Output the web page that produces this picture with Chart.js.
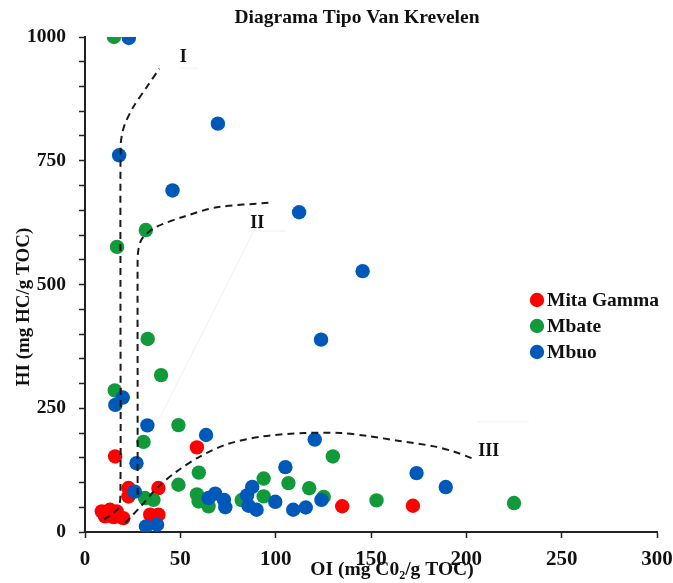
<!DOCTYPE html>
<html>
<head>
<meta charset="utf-8">
<script src="https://cdn.jsdelivr.net/npm/chart.js@4.4.0/dist/chart.umd.min.js"></script>
<style>
html,body{margin:0;padding:0;background:#fff;}
#wrap{width:673px;height:583px;position:relative;}
</style>
</head>
<body>
<div id="wrap"><canvas id="c" width="673" height="583"></canvas></div>
<script>
// ---------- DATA ----------
const chartTitle = 'Diagrama Tipo Van Krevelen';
const yTitle = 'HI (mg HC/g TOC)';
const xTitleParts = ['OI (mg C0', '2', '/g TOC)']; // middle part is subscript
const seriesNames = ['Mita Gamma', 'Mbate', 'Mbuo'];
const seriesColors = ['#ff0000', '#12993a', '#0059b9'];

const mitaOI = [8.8, 10.5, 12, 13.1, 15, 16.6, 17.5, 20.1, 15.8, 22.8, 22.8, 38.5, 34.2, 38.5, 58.7, 134.9, 172];
const mitaHI = [41.6, 31.5, 38, 45, 30, 41.6, 31.5, 28, 152.6, 88.8, 71.8, 88.8, 35, 35, 171, 52, 53];

const mbateOI = [15.2, 31.9, 16.8, 32.9, 39.9, 15.6, 49, 30.7, 59.7, 49, 31.5, 35.9, 58.7, 59.6, 64.8, 82.2, 93.7, 93.7, 106.7, 117.6, 125.2, 130, 152.9, 225];
const mbateHI = [1000, 610, 576, 390, 317, 286, 216, 182, 120, 95.4, 68.6, 65, 76, 61.7, 51.7, 64.5, 108, 72, 98.8, 88.5, 71, 152.6, 63.8, 58.5];

const mbuoOI = [23, 69.7, 17.9, 45.9, 112.3, 145.6, 123.8, 19.8, 15.9, 32.7, 63.5, 27, 26.1, 32, 37.8, 120.5, 105.1, 64.8, 68.3, 72.9, 73.6, 85, 87.7, 85.8, 90, 99.8, 109.2, 115.8, 124, 173.9, 189.2];
const mbuoHI = [998, 825, 761, 690, 646, 527, 388.6, 271.6, 256.8, 215.5, 196, 139, 81.5, 11.3, 14.7, 186.8, 131, 68.6, 77.5, 65, 50, 74, 91, 53, 45, 61, 45, 49.5, 65, 119, 90.8];

// kerogen type boundary curves
const curveIOI = [10, 14, 17.8, 18.6, 18.6, 18.7, 19.5, 21, 25.4, 32.4, 39];
const curveIHI = [25, 36, 50, 90, 500, 780, 805, 825, 859, 899, 936];
const curveIIOI = [27.6, 27.6, 27.6, 28, 29.5, 32.4, 37.7, 51.7, 69.2, 96.3];
const curveIIHI = [75, 300, 550, 570, 590, 603, 617, 637, 656, 665];
const curveIIIOI = [21, 30, 38, 48, 60, 75, 93, 115, 134, 148, 165, 183, 193, 203];
const curveIIIHI = [18, 55, 90, 122, 152, 178, 193, 200, 200, 194, 184, 173, 163, 149];

const curveLabels = ['I', 'II', 'III'];
const curveLabelOI = [51.5, 90.4, 211.8];
const curveLabelHI = [959, 624, 162];

// faint leader lines (pairs of points)
const leaderOI = [[49.9, 59.4], [85.7, 105.1], [37.8, 89.3], [206, 232.8]];
const leaderHI = [[937, 937], [608, 608], [220, 614], [222.6, 222.6]];

const xTickValues = [0, 50, 100, 150, 200, 250, 300];
const yTickLabels = [0, 250, 500, 750, 1000];

// ---------- BUILD ----------
const pts = (xs, ys) => xs.map((x, i) => ({x: x, y: ys[i]}));
const FONT = '"Liberation Serif", "Times New Roman", Times, serif';

const curveStyle = {
  type: 'scatter', showLine: true, borderColor: '#1a1a1a', borderWidth: 2,
  borderDash: [7, 5], pointRadius: 0, tension: 0.3, fill: false, order: 0
};

const datasets = [
  Object.assign({label: 'I', data: pts(curveIOI, curveIHI)}, curveStyle),
  Object.assign({label: 'II', data: pts(curveIIOI, curveIIHI)}, curveStyle),
  Object.assign({label: 'III', data: pts(curveIIIOI, curveIIIHI)}, curveStyle),
];
leaderOI.forEach((lx, i) => {
  datasets.push({label: 'leader' + i, data: pts(lx, leaderHI[i]), showLine: true,
    borderColor: '#f0f0f0', borderWidth: 1, pointRadius: 0, order: 5});
});
const seriesData = [[mitaOI, mitaHI], [mbateOI, mbateHI], [mbuoOI, mbuoHI]];
const seriesOrder = [3, 2, 1];
seriesNames.forEach((n, i) => {
  datasets.push({
    label: n, data: pts(seriesData[i][0], seriesData[i][1]),
    backgroundColor: seriesColors[i], borderColor: seriesColors[i], borderWidth: 0,
    pointRadius: 7.2, pointHoverRadius: 7.2, showLine: false, order: seriesOrder[i]
  });
});

const overlay = {
  id: 'overlay',
  afterDraw(chart) {
    const ctx = chart.ctx, xs = chart.scales.x, ys = chart.scales.y;
    ctx.save();
    ctx.fillStyle = '#111';
    ctx.textAlign = 'center';
    ctx.textBaseline = 'middle';
    // curve labels
    ctx.font = 'bold 18px ' + FONT;
    curveLabels.forEach((t, i) => {
      ctx.fillText(t, xs.getPixelForValue(curveLabelOI[i]), ys.getPixelForValue(curveLabelHI[i]));
    });
    // title
    ctx.font = 'bold 19.5px ' + FONT;
    ctx.fillText(chartTitle, 357, 18);
    // y title
    ctx.save();
    ctx.translate(24, 307);
    ctx.rotate(-Math.PI / 2);
    ctx.font = 'bold 19px ' + FONT;
    ctx.fillText(yTitle, 0, 0);
    ctx.restore();
    // x title with subscript
    const mainF = 'bold 19.5px ' + FONT, subF = 'bold 12px ' + FONT;
    ctx.font = mainF; const w0 = ctx.measureText(xTitleParts[0]).width;
    const w2 = ctx.measureText(xTitleParts[2]).width;
    ctx.font = subF; const w1 = ctx.measureText(xTitleParts[1]).width;
    let sx = 392 - (w0 + w1 + w2) / 2, sy = 570;
    ctx.textAlign = 'left';
    ctx.font = mainF; ctx.fillText(xTitleParts[0], sx, sy); sx += w0;
    ctx.font = subF; ctx.fillText(xTitleParts[1], sx, sy + 6); sx += w1;
    ctx.font = mainF; ctx.fillText(xTitleParts[2], sx, sy);
    // legend
    seriesNames.forEach((n, i) => {
      const ly = 300 + i * 26;
      ctx.beginPath();
      ctx.fillStyle = seriesColors[i];
      ctx.arc(537, ly, 7.2, 0, Math.PI * 2);
      ctx.fill();
      ctx.fillStyle = '#111';
      ctx.font = 'bold 19.5px ' + FONT;
      ctx.textAlign = 'left';
      ctx.fillText(n, 547, ly + 1);
    });
    ctx.restore();
  }
};

new Chart(document.getElementById('c'), {
  type: 'scatter',
  data: {datasets: datasets},
  options: {
    responsive: false,
    devicePixelRatio: 1,
    animation: false,
    events: [],
    layout: {padding: {top: 37, right: 16, left: 0, bottom: 0}},
    plugins: {legend: {display: false}, tooltip: {enabled: false}, title: {display: false}},
    scales: {
      x: {
        type: 'linear', min: 0, max: 300,
        afterFit: s => { s.height = 51; s.paddingRight = 16; s.paddingLeft = 0; },
        afterBuildTicks: s => { s.ticks = xTickValues.map(v => ({value: v})); },
        ticks: {font: {family: FONT, size: 21, weight: 'bold'}, color: '#111', padding: 9, maxRotation: 0, autoSkip: false},
        grid: {drawOnChartArea: false, drawTicks: true, tickLength: 6, tickColor: '#222', tickWidth: 1.5},
        border: {display: true, color: '#222', width: 2}
      },
      y: {
        type: 'linear', min: 0, max: 1000,
        afterFit: s => { s.width = 85; },
        ticks: {stepSize: 50, autoSkip: false, font: {family: FONT, size: 19.5, weight: 'bold'}, color: '#111', padding: 13,
          callback: v => (yTickLabels.includes(v) ? String(v) : '')},
        grid: {drawOnChartArea: false, drawTicks: true, tickLength: 6, tickColor: '#222', tickWidth: 1.5},
        border: {display: true, color: '#222', width: 2}
      }
    }
  },
  plugins: [overlay]
});
</script>
</body>
</html>
